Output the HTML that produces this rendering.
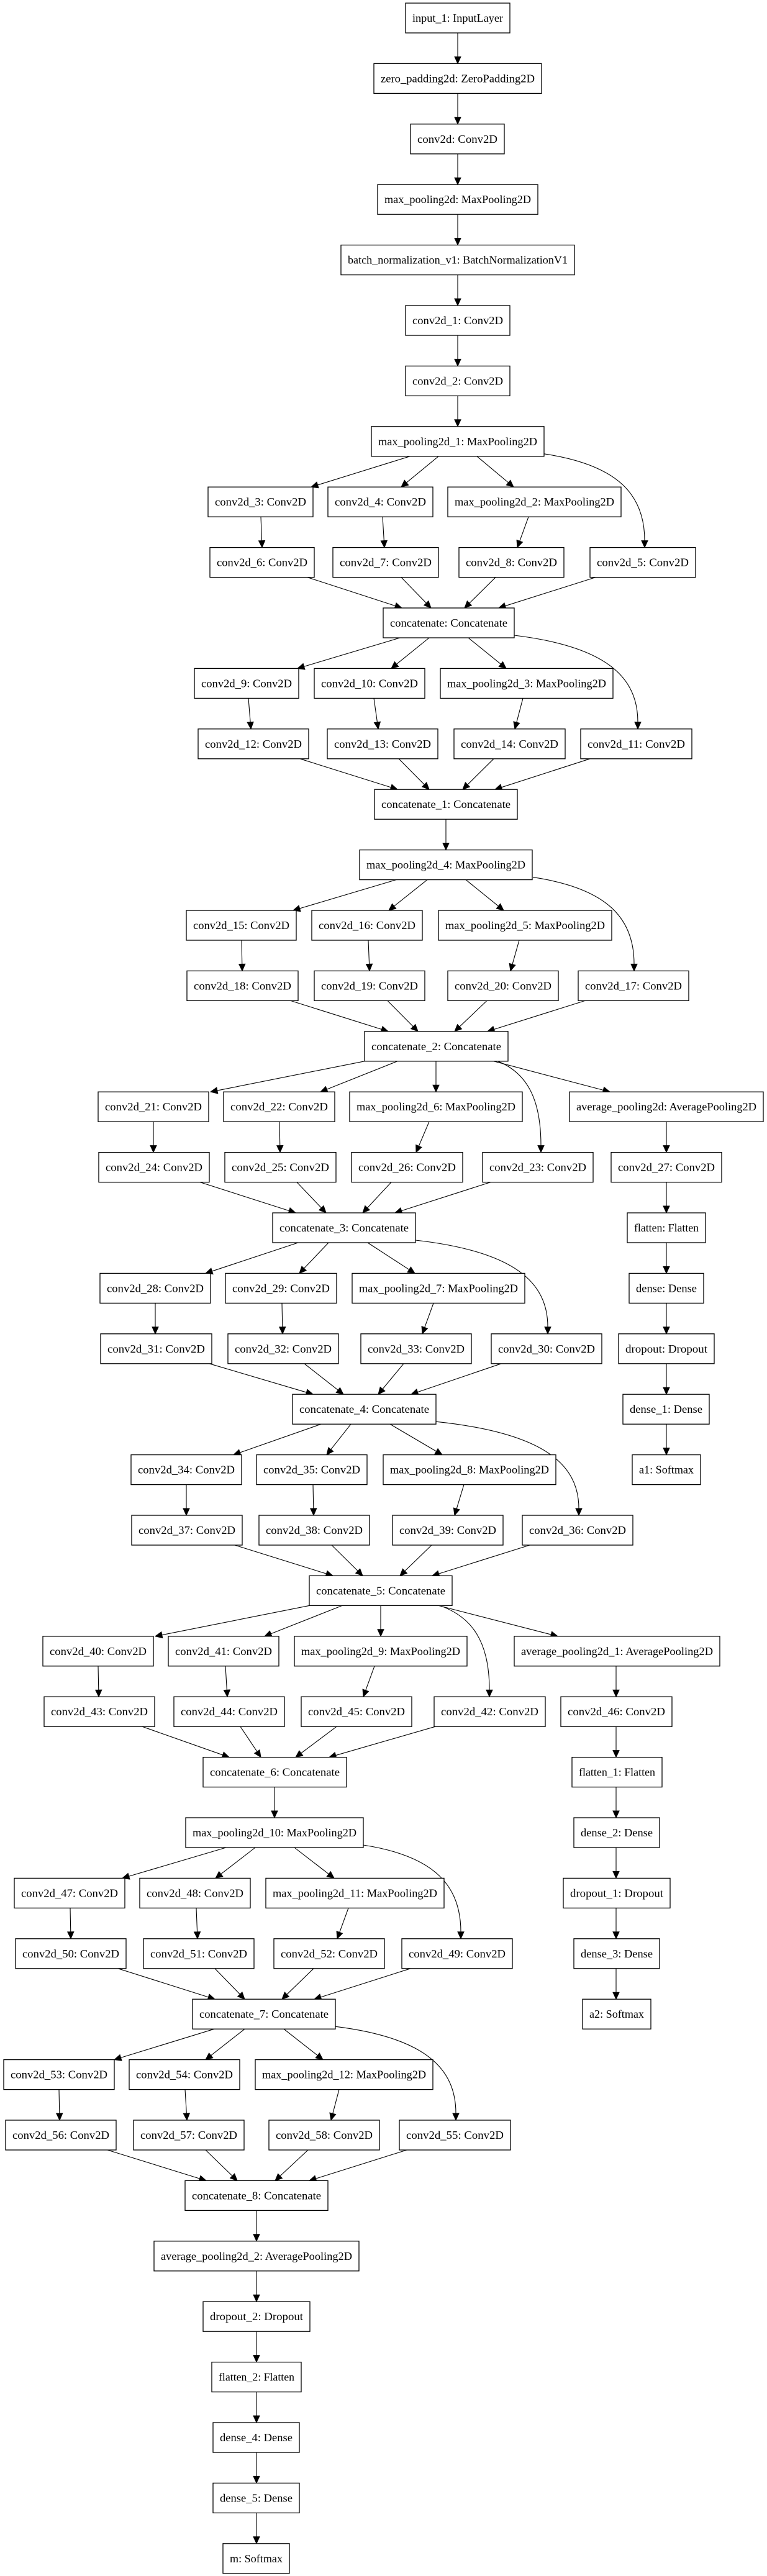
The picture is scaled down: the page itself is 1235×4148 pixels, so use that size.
<!DOCTYPE html>
<html><head><meta charset="utf-8"><style>
html,body{margin:0;padding:0;background:#fff;}
svg{display:block;}
text{font-family:"Liberation Serif",serif;font-size:18px;fill:#000;text-anchor:middle;}
rect{fill:#fff;stroke:#000;stroke-width:1.3;}
</style></head><body>
<svg id="s" width="1235" height="4148" viewBox="0 0 1235 4148" xmlns="http://www.w3.org/2000/svg">
<g id="edges"></g>
<g id="nodes">
<rect x="653" y="5" width="168" height="48"/><text x="737" y="35" textLength="146" lengthAdjust="spacingAndGlyphs">input_1: InputLayer</text>
<rect x="602" y="102.4" width="270" height="48"/><text x="737" y="132.4" textLength="248" lengthAdjust="spacingAndGlyphs">zero_padding2d: ZeroPadding2D</text>
<rect x="661" y="199.8" width="151" height="48"/><text x="736.5" y="229.8" textLength="129" lengthAdjust="spacingAndGlyphs">conv2d: Conv2D</text>
<rect x="608" y="297.2" width="258" height="48"/><text x="737" y="327.2" textLength="236" lengthAdjust="spacingAndGlyphs">max_pooling2d: MaxPooling2D</text>
<rect x="549" y="394.6" width="376" height="48"/><text x="737" y="424.6" textLength="354" lengthAdjust="spacingAndGlyphs">batch_normalization_v1: BatchNormalizationV1</text>
<rect x="653" y="492" width="168" height="48"/><text x="737" y="522" textLength="146" lengthAdjust="spacingAndGlyphs">conv2d_1: Conv2D</text>
<rect x="653" y="589.4" width="168" height="48"/><text x="737" y="619.4" textLength="146" lengthAdjust="spacingAndGlyphs">conv2d_2: Conv2D</text>
<rect x="598" y="686.8" width="278" height="48"/><text x="737" y="716.8" textLength="256" lengthAdjust="spacingAndGlyphs">max_pooling2d_1: MaxPooling2D</text>

<rect x="335" y="784.2" width="169" height="48"/><text x="419.5" y="814.2" textLength="147" lengthAdjust="spacingAndGlyphs">conv2d_3: Conv2D</text>
<rect x="528" y="784.2" width="169" height="48"/><text x="612.5" y="814.2" textLength="147" lengthAdjust="spacingAndGlyphs">conv2d_4: Conv2D</text>
<rect x="721" y="784.2" width="279" height="48"/><text x="860.5" y="814.2" textLength="257" lengthAdjust="spacingAndGlyphs">max_pooling2d_2: MaxPooling2D</text>

<rect x="338" y="881.6" width="168" height="48"/><text x="422" y="911.6" textLength="146" lengthAdjust="spacingAndGlyphs">conv2d_6: Conv2D</text>
<rect x="536" y="881.6" width="170" height="48"/><text x="621" y="911.6" textLength="148" lengthAdjust="spacingAndGlyphs">conv2d_7: Conv2D</text>
<rect x="739" y="881.6" width="169" height="48"/><text x="823.5" y="911.6" textLength="147" lengthAdjust="spacingAndGlyphs">conv2d_8: Conv2D</text>
<rect x="950" y="881.6" width="170" height="48"/><text x="1035" y="911.6" textLength="148" lengthAdjust="spacingAndGlyphs">conv2d_5: Conv2D</text>

<rect x="617" y="979" width="211" height="48"/><text x="722.5" y="1009" textLength="189" lengthAdjust="spacingAndGlyphs">concatenate: Concatenate</text>

<rect x="313" y="1076.4" width="168" height="48"/><text x="397" y="1106.4" textLength="146" lengthAdjust="spacingAndGlyphs">conv2d_9: Conv2D</text>
<rect x="506" y="1076.4" width="178" height="48"/><text x="595" y="1106.4" textLength="156" lengthAdjust="spacingAndGlyphs">conv2d_10: Conv2D</text>
<rect x="709" y="1076.4" width="278" height="48"/><text x="848" y="1106.4" textLength="256" lengthAdjust="spacingAndGlyphs">max_pooling2d_3: MaxPooling2D</text>

<rect x="319" y="1173.8" width="178" height="48"/><text x="408" y="1203.8" textLength="156" lengthAdjust="spacingAndGlyphs">conv2d_12: Conv2D</text>
<rect x="527" y="1173.8" width="178" height="48"/><text x="616" y="1203.8" textLength="156" lengthAdjust="spacingAndGlyphs">conv2d_13: Conv2D</text>
<rect x="731" y="1173.8" width="179" height="48"/><text x="820.5" y="1203.8" textLength="157" lengthAdjust="spacingAndGlyphs">conv2d_14: Conv2D</text>
<rect x="935" y="1173.8" width="179" height="48"/><text x="1024.5" y="1203.8" textLength="157" lengthAdjust="spacingAndGlyphs">conv2d_11: Conv2D</text>

<rect x="603" y="1271.2" width="230" height="48"/><text x="718" y="1301.2" textLength="208" lengthAdjust="spacingAndGlyphs">concatenate_1: Concatenate</text>
<rect x="579" y="1368.6" width="278" height="48"/><text x="718" y="1398.6" textLength="256" lengthAdjust="spacingAndGlyphs">max_pooling2d_4: MaxPooling2D</text>

<rect x="300" y="1466" width="177" height="48"/><text x="388.5" y="1496" textLength="155" lengthAdjust="spacingAndGlyphs">conv2d_15: Conv2D</text>
<rect x="502" y="1466" width="178" height="48"/><text x="591" y="1496" textLength="156" lengthAdjust="spacingAndGlyphs">conv2d_16: Conv2D</text>
<rect x="706" y="1466" width="279" height="48"/><text x="845.5" y="1496" textLength="257" lengthAdjust="spacingAndGlyphs">max_pooling2d_5: MaxPooling2D</text>

<rect x="301" y="1563.4" width="179" height="48"/><text x="390.5" y="1593.4" textLength="157" lengthAdjust="spacingAndGlyphs">conv2d_18: Conv2D</text>
<rect x="506" y="1563.4" width="178" height="48"/><text x="595" y="1593.4" textLength="156" lengthAdjust="spacingAndGlyphs">conv2d_19: Conv2D</text>
<rect x="721" y="1563.4" width="178" height="48"/><text x="810" y="1593.4" textLength="156" lengthAdjust="spacingAndGlyphs">conv2d_20: Conv2D</text>
<rect x="931" y="1563.4" width="178" height="48"/><text x="1020" y="1593.4" textLength="156" lengthAdjust="spacingAndGlyphs">conv2d_17: Conv2D</text>

<rect x="587" y="1660.8" width="231" height="48"/><text x="702.5" y="1690.8" textLength="209" lengthAdjust="spacingAndGlyphs">concatenate_2: Concatenate</text>

<rect x="158" y="1758.2" width="178" height="48"/><text x="247" y="1788.2" textLength="156" lengthAdjust="spacingAndGlyphs">conv2d_21: Conv2D</text>
<rect x="360" y="1758.2" width="179" height="48"/><text x="449.5" y="1788.2" textLength="157" lengthAdjust="spacingAndGlyphs">conv2d_22: Conv2D</text>
<rect x="563" y="1758.2" width="278" height="48"/><text x="702" y="1788.2" textLength="256" lengthAdjust="spacingAndGlyphs">max_pooling2d_6: MaxPooling2D</text>
<rect x="917" y="1758.2" width="312" height="48"/><text x="1073" y="1788.2" textLength="290" lengthAdjust="spacingAndGlyphs">average_pooling2d: AveragePooling2D</text>

<rect x="159" y="1855.6" width="178" height="48"/><text x="248" y="1885.6" textLength="156" lengthAdjust="spacingAndGlyphs">conv2d_24: Conv2D</text>
<rect x="362" y="1855.6" width="179" height="48"/><text x="451.5" y="1885.6" textLength="157" lengthAdjust="spacingAndGlyphs">conv2d_25: Conv2D</text>
<rect x="566" y="1855.6" width="179" height="48"/><text x="655.5" y="1885.6" textLength="157" lengthAdjust="spacingAndGlyphs">conv2d_26: Conv2D</text>
<rect x="777" y="1855.6" width="178" height="48"/><text x="866" y="1885.6" textLength="156" lengthAdjust="spacingAndGlyphs">conv2d_23: Conv2D</text>
<rect x="984" y="1855.6" width="178" height="48"/><text x="1073" y="1885.6" textLength="156" lengthAdjust="spacingAndGlyphs">conv2d_27: Conv2D</text>

<rect x="439" y="1953" width="230" height="48"/><text x="554" y="1983" textLength="208" lengthAdjust="spacingAndGlyphs">concatenate_3: Concatenate</text>
<rect x="1010" y="1953" width="126" height="48"/><text x="1073" y="1983" textLength="104" lengthAdjust="spacingAndGlyphs">flatten: Flatten</text>

<rect x="161" y="2050.4" width="178" height="48"/><text x="250" y="2080.4" textLength="156" lengthAdjust="spacingAndGlyphs">conv2d_28: Conv2D</text>
<rect x="363" y="2050.4" width="179" height="48"/><text x="452.5" y="2080.4" textLength="157" lengthAdjust="spacingAndGlyphs">conv2d_29: Conv2D</text>
<rect x="567" y="2050.4" width="278" height="48"/><text x="706" y="2080.4" textLength="256" lengthAdjust="spacingAndGlyphs">max_pooling2d_7: MaxPooling2D</text>
<rect x="1013" y="2050.4" width="120" height="48"/><text x="1073" y="2080.4" textLength="98" lengthAdjust="spacingAndGlyphs">dense: Dense</text>

<rect x="162" y="2147.8" width="179" height="48"/><text x="251.5" y="2177.8" textLength="157" lengthAdjust="spacingAndGlyphs">conv2d_31: Conv2D</text>
<rect x="367" y="2147.8" width="178" height="48"/><text x="456" y="2177.8" textLength="156" lengthAdjust="spacingAndGlyphs">conv2d_32: Conv2D</text>
<rect x="581" y="2147.8" width="178" height="48"/><text x="670" y="2177.8" textLength="156" lengthAdjust="spacingAndGlyphs">conv2d_33: Conv2D</text>
<rect x="791" y="2147.8" width="178" height="48"/><text x="880" y="2177.8" textLength="156" lengthAdjust="spacingAndGlyphs">conv2d_30: Conv2D</text>
<rect x="996" y="2147.8" width="154" height="48"/><text x="1073" y="2177.8" textLength="132" lengthAdjust="spacingAndGlyphs">dropout: Dropout</text>

<rect x="471" y="2245.2" width="231" height="48"/><text x="586.5" y="2275.2" textLength="209" lengthAdjust="spacingAndGlyphs">concatenate_4: Concatenate</text>
<rect x="1003" y="2245.2" width="139" height="48"/><text x="1072.5" y="2275.2" textLength="117" lengthAdjust="spacingAndGlyphs">dense_1: Dense</text>

<rect x="211" y="2342.6" width="178" height="48"/><text x="300" y="2372.6" textLength="156" lengthAdjust="spacingAndGlyphs">conv2d_34: Conv2D</text>
<rect x="413" y="2342.6" width="178" height="48"/><text x="502" y="2372.6" textLength="156" lengthAdjust="spacingAndGlyphs">conv2d_35: Conv2D</text>
<rect x="617" y="2342.6" width="278" height="48"/><text x="756" y="2372.6" textLength="256" lengthAdjust="spacingAndGlyphs">max_pooling2d_8: MaxPooling2D</text>
<rect x="1018" y="2342.6" width="110" height="48"/><text x="1073" y="2372.6" textLength="88" lengthAdjust="spacingAndGlyphs">a1: Softmax</text>

<rect x="212" y="2440" width="178" height="48"/><text x="301" y="2470" textLength="156" lengthAdjust="spacingAndGlyphs">conv2d_37: Conv2D</text>
<rect x="417" y="2440" width="178" height="48"/><text x="506" y="2470" textLength="156" lengthAdjust="spacingAndGlyphs">conv2d_38: Conv2D</text>
<rect x="632" y="2440" width="178" height="48"/><text x="721" y="2470" textLength="156" lengthAdjust="spacingAndGlyphs">conv2d_39: Conv2D</text>
<rect x="841" y="2440" width="178" height="48"/><text x="930" y="2470" textLength="156" lengthAdjust="spacingAndGlyphs">conv2d_36: Conv2D</text>

<rect x="498" y="2537.4" width="230" height="48"/><text x="613" y="2567.4" textLength="208" lengthAdjust="spacingAndGlyphs">concatenate_5: Concatenate</text>

<rect x="69" y="2634.8" width="178" height="48"/><text x="158" y="2664.8" textLength="156" lengthAdjust="spacingAndGlyphs">conv2d_40: Conv2D</text>
<rect x="271" y="2634.8" width="178" height="48"/><text x="360" y="2664.8" textLength="156" lengthAdjust="spacingAndGlyphs">conv2d_41: Conv2D</text>
<rect x="474" y="2634.8" width="278" height="48"/><text x="613" y="2664.8" textLength="256" lengthAdjust="spacingAndGlyphs">max_pooling2d_9: MaxPooling2D</text>
<rect x="828" y="2634.8" width="331" height="48"/><text x="993.5" y="2664.8" textLength="309" lengthAdjust="spacingAndGlyphs">average_pooling2d_1: AveragePooling2D</text>

<rect x="71" y="2732.2" width="178" height="48"/><text x="160" y="2762.2" textLength="156" lengthAdjust="spacingAndGlyphs">conv2d_43: Conv2D</text>
<rect x="280" y="2732.2" width="178" height="48"/><text x="369" y="2762.2" textLength="156" lengthAdjust="spacingAndGlyphs">conv2d_44: Conv2D</text>
<rect x="485" y="2732.2" width="178" height="48"/><text x="574" y="2762.2" textLength="156" lengthAdjust="spacingAndGlyphs">conv2d_45: Conv2D</text>
<rect x="699" y="2732.2" width="179" height="48"/><text x="788.5" y="2762.2" textLength="157" lengthAdjust="spacingAndGlyphs">conv2d_42: Conv2D</text>
<rect x="903" y="2732.2" width="179" height="48"/><text x="992.5" y="2762.2" textLength="157" lengthAdjust="spacingAndGlyphs">conv2d_46: Conv2D</text>

<rect x="327" y="2829.6" width="231" height="48"/><text x="442.5" y="2859.6" textLength="209" lengthAdjust="spacingAndGlyphs">concatenate_6: Concatenate</text>
<rect x="921" y="2829.6" width="145" height="48"/><text x="993.5" y="2859.6" textLength="123" lengthAdjust="spacingAndGlyphs">flatten_1: Flatten</text>

<rect x="299" y="2927" width="286" height="48"/><text x="442" y="2957" textLength="264" lengthAdjust="spacingAndGlyphs">max_pooling2d_10: MaxPooling2D</text>
<rect x="924" y="2927" width="138" height="48"/><text x="993" y="2957" textLength="116" lengthAdjust="spacingAndGlyphs">dense_2: Dense</text>

<rect x="23" y="3024.4" width="178" height="48"/><text x="112" y="3054.4" textLength="156" lengthAdjust="spacingAndGlyphs">conv2d_47: Conv2D</text>
<rect x="225" y="3024.4" width="178" height="48"/><text x="314" y="3054.4" textLength="156" lengthAdjust="spacingAndGlyphs">conv2d_48: Conv2D</text>
<rect x="428" y="3024.4" width="287" height="48"/><text x="571.5" y="3054.4" textLength="265" lengthAdjust="spacingAndGlyphs">max_pooling2d_11: MaxPooling2D</text>
<rect x="907" y="3024.4" width="172" height="48"/><text x="993" y="3054.4" textLength="150" lengthAdjust="spacingAndGlyphs">dropout_1: Dropout</text>

<rect x="25" y="3121.8" width="178" height="48"/><text x="114" y="3151.8" textLength="156" lengthAdjust="spacingAndGlyphs">conv2d_50: Conv2D</text>
<rect x="231" y="3121.8" width="178" height="48"/><text x="320" y="3151.8" textLength="156" lengthAdjust="spacingAndGlyphs">conv2d_51: Conv2D</text>
<rect x="441" y="3121.8" width="178" height="48"/><text x="530" y="3151.8" textLength="156" lengthAdjust="spacingAndGlyphs">conv2d_52: Conv2D</text>
<rect x="647" y="3121.8" width="178" height="48"/><text x="736" y="3151.8" textLength="156" lengthAdjust="spacingAndGlyphs">conv2d_49: Conv2D</text>
<rect x="924" y="3121.8" width="138" height="48"/><text x="993" y="3151.8" textLength="116" lengthAdjust="spacingAndGlyphs">dense_3: Dense</text>

<rect x="310" y="3219.2" width="230" height="48"/><text x="425" y="3249.2" textLength="208" lengthAdjust="spacingAndGlyphs">concatenate_7: Concatenate</text>
<rect x="938" y="3219.2" width="110" height="48"/><text x="993" y="3249.2" textLength="88" lengthAdjust="spacingAndGlyphs">a2: Softmax</text>

<rect x="6" y="3316.6" width="178" height="48"/><text x="95" y="3346.6" textLength="156" lengthAdjust="spacingAndGlyphs">conv2d_53: Conv2D</text>
<rect x="208" y="3316.6" width="178" height="48"/><text x="297" y="3346.6" textLength="156" lengthAdjust="spacingAndGlyphs">conv2d_54: Conv2D</text>
<rect x="411" y="3316.6" width="286" height="48"/><text x="554" y="3346.6" textLength="264" lengthAdjust="spacingAndGlyphs">max_pooling2d_12: MaxPooling2D</text>

<rect x="9" y="3414" width="178" height="48"/><text x="98" y="3444" textLength="156" lengthAdjust="spacingAndGlyphs">conv2d_56: Conv2D</text>
<rect x="215" y="3414" width="178" height="48"/><text x="304" y="3444" textLength="156" lengthAdjust="spacingAndGlyphs">conv2d_57: Conv2D</text>
<rect x="433" y="3414" width="178" height="48"/><text x="522" y="3444" textLength="156" lengthAdjust="spacingAndGlyphs">conv2d_58: Conv2D</text>
<rect x="643" y="3414" width="179" height="48"/><text x="732.5" y="3444" textLength="157" lengthAdjust="spacingAndGlyphs">conv2d_55: Conv2D</text>

<rect x="298" y="3511.4" width="230" height="48"/><text x="413" y="3541.4" textLength="208" lengthAdjust="spacingAndGlyphs">concatenate_8: Concatenate</text>
<rect x="248" y="3608.8" width="330" height="48"/><text x="413" y="3638.8" textLength="308" lengthAdjust="spacingAndGlyphs">average_pooling2d_2: AveragePooling2D</text>
<rect x="327" y="3706.2" width="172" height="48"/><text x="413" y="3736.2" textLength="150" lengthAdjust="spacingAndGlyphs">dropout_2: Dropout</text>
<rect x="341" y="3803.6" width="144" height="48"/><text x="413" y="3833.6" textLength="122" lengthAdjust="spacingAndGlyphs">flatten_2: Flatten</text>
<rect x="343" y="3901" width="139" height="48"/><text x="412.5" y="3931" textLength="117" lengthAdjust="spacingAndGlyphs">dense_4: Dense</text>
<rect x="343" y="3998.4" width="139" height="48"/><text x="412.5" y="4028.4" textLength="117" lengthAdjust="spacingAndGlyphs">dense_5: Dense</text>
<rect x="359" y="4095.8" width="107" height="48"/><text x="412.5" y="4125.8" textLength="85" lengthAdjust="spacingAndGlyphs">m: Softmax</text>
</g>
</svg>
<script>
(function(){
function Y(r){return 5+97.4*r;}
var E=[
[737,0,737,1],[737,1,737,2],[737,2,737,3],[737,3,737,4],[737,4,737,5],[737,5,737,6],[737,6,737,7],
[660,7,501,8],[706,7,646,8],[768,7,827,8],[876,7,1038,9,1],
[420,8,422,9],[616,8,619,9],[851,8,833,9],
[495,9,647,10],[646,9,694,10],[798,9,748,10],[959,9,803,10],
[644,10,479,11],[691,10,630,11],[754,10,815,11],[828,10,1027,12,1],
[400,11,404,12],[602,11,609,12],[842,11,829,12],
[483,12,640,13],[642,12,691,13],[795,12,745,13],[950,12,797,13],
[718,13,718,14],
[638,14,472,15],[688,14,626,15],[750,14,811,15],[858,14,1021,16,1],
[389,15,390,16],[593,15,595,16],[836,15,822,16],
[468,16,625,17],[624,16,673,17],[784,16,732,17],[942,16,785,17],
[587,17,339,18],[640,17,516,18],[702,17,702,18],[790,17,871,19,1],[795,17,982,18],
[247,18,247,19],[450,18,451,19],[691,18,670,19],[1073,18,1073,19],
[322,19,476,20],[478,19,525,20],[630,19,584,20],[790,19,636,20],[1073,19,1073,20],
[480,20,331,21],[529,20,482,21],[592,20,668,21],[669,20,882,22,1],[1073,20,1073,21],
[250,21,250,22],[454,21,455,22],[698,21,680,22],[1073,21,1073,22],
[337,22,504,23],[490,22,553,23],[650,22,609,23],[807,22,662,23],[1073,22,1073,23],
[517,23,376,24],[565,23,526,24],[628,23,712,24],[702,23,932,25,1],[1073,23,1073,24],
[300,24,300,25],[504,24,505,25],[747,24,732,25],
[378,25,536,26],[534,25,584,26],[695,25,644,26],[853,25,696,26],
[498,26,250,27],[551,26,426,27],[613,26,613,27],[695,26,788,28,1],[706,26,898,27],
[158,27,159,28],[363,27,366,28],[603,27,585,28],[992,27,992,28],
[229,28,369,29],[387,28,420,29],[542,28,476,29],[701,28,530,29],[992,28,992,29],
[442,29,442,30],[992,29,992,30],
[364,30,197,31],[411,30,347,31],[474,30,538,31],[585,30,742,32,1],[992,30,992,31],
[113,31,114,32],[316,31,318,32],[561,31,543,32],[992,31,992,32],
[190,32,346,33],[346,32,394,33],[505,32,454,33],[661,32,506,33],[992,32,992,33],
[345,33,184,34],[394,33,331,34],[457,33,520,34],[540,33,734,35,1],
[95,34,96,35],[298,34,301,35],[546,34,533,35],
[173,35,332,36],[331,35,382,36],[496,35,443,36],[655,35,498,36],
[413,36,413,37],[413,37,413,38],[413,38,413,39],[413,39,413,40],[413,40,413,41],[413,41,413,42]
];
var g=document.getElementById("edges"),out="";
E.forEach(function(e){
 var sx=e[0],sy=Y(e[1])+48,tx=e[2],ty=Y(e[3]),L=11,d,px,py;
 if(e[4]){
  sy-=4;var dy=ty-sy;
  var c1x=sx+0.75*(tx-sx),c1y=sy+0.12*dy,c2x=tx,c2y=sy+0.45*dy;
  d="M"+sx+","+sy+" C"+c1x+","+c1y+" "+c2x+","+c2y+" "+tx+","+(ty-L);
  px=0;py=1;
 } else {
  var dx=tx-sx,dyy=ty-sy,len=Math.sqrt(dx*dx+dyy*dyy);px=dx/len;py=dyy/len;
  d="M"+sx+","+sy+" L"+(tx-px*L)+","+(ty-py*L);
 }
 var bx=tx-px*L,by=ty-py*L,w=5;
 out+='<path d="'+d+'" fill="none" stroke="#000" stroke-width="1.1"/>';
 out+='<polygon points="'+tx+","+ty+" "+(bx-py*w)+","+(by+px*w)+" "+(bx+py*w)+","+(by-px*w)+'" fill="#000" stroke="#000" stroke-width="1"/>';
});
g.innerHTML=out;
})();
</script>
</body></html>
